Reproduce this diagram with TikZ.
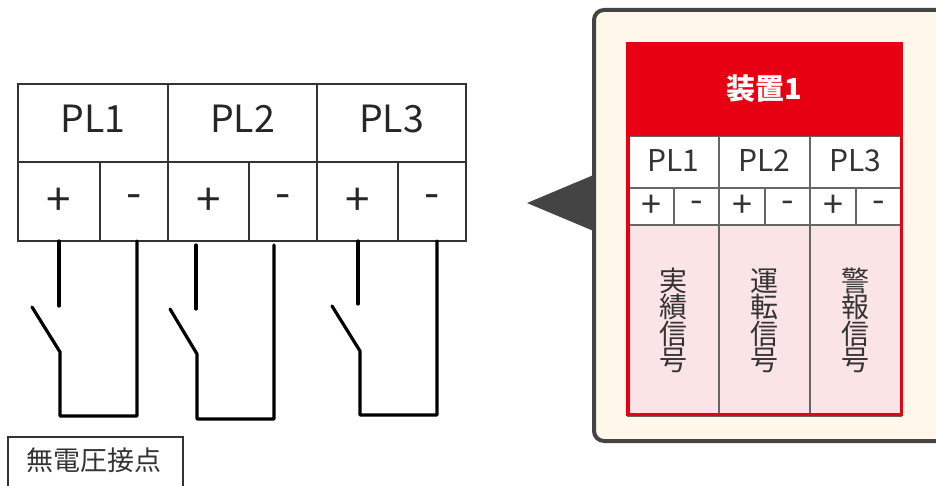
\documentclass[tikz,border=0pt]{standalone}
\usepackage{fontspec}
\setmainfont{Noto Sans CJK JP}
\usetikzlibrary{positioning}
\definecolor{inkdark}{HTML}{333333}
\definecolor{bubbleline}{HTML}{444444}
\definecolor{bubblefill}{HTML}{FFF7EA}
\definecolor{devred}{HTML}{E60012}
\definecolor{sigpink}{HTML}{FBE4E6}
\newcommand{\fs}[1]{\fontsize{#1}{#1}\selectfont}
\tikzset{
  cell/.style={draw=black!80, line width=2.2pt, inner sep=0pt, outer sep=0pt, text=black!85},
  headcell/.style={cell, minimum height=78pt, text height=27pt, text depth=7pt, font=\fs{37.5}},
  signcell/.style={cell, minimum height=79pt, font=\fs{44}},
  subcell/.style={draw=black!60, line width=1.2pt, fill=white, inner sep=0pt, outer sep=0pt, text=inkdark},
  subhead/.style={subcell, minimum width=91pt, minimum height=52pt, text height=22pt, text depth=2pt, font=\fs{30}},
  subsign/.style={subcell, minimum height=37pt, font=\fs{36}},
  sigcell/.style={subcell, fill=sigpink, minimum width=91pt, minimum height=191pt, align=center, font=\fs{28}},
  wire/.style={line width=3.2pt, line cap=round, line join=round, draw=black}
}
\begin{document}
\begin{tikzpicture}[x=1pt, y=-1pt, node distance=0pt]
\useasboundingbox (0,0) rectangle (936,486);
\clip (0,0) rectangle (936,486);
% terminal block
\node[headcell, minimum width=150pt] (pla) at (93,123) {PL1};
\node[headcell, minimum width=149pt, right=of pla] (plb) {PL2};
\node[headcell, minimum width=149pt, right=of plb] (plc) {PL3};
\node[signcell, minimum width=82pt, anchor=north west] (apos) at (pla.south west) {+};
\node[signcell, minimum width=68pt, right=of apos] (aneg) {-};
\node[signcell, minimum width=81pt, right=of aneg] (bpos) {+};
\node[signcell, minimum width=68pt, right=of bpos] (bneg) {-};
\node[signcell, minimum width=81pt, right=of bneg] (cpos) {+};
\node[signcell, minimum width=68pt, right=of cpos] (cneg) {-};
% contacts
\coordinate (aup) at (59,306);
\coordinate (aarm) at (32,307);
\coordinate (apiv) at (60,352);
\coordinate (aret) at (137,241);
\draw[wire] (aup) -- (aup |- apos.south);
\draw[wire] (aarm) -- (apiv) -- (60,416) -- (137,416) -- (aret);
\coordinate (bstart) at (196,245);
\coordinate (bup) at (196,309);
\coordinate (barm) at (170,309);
\coordinate (bpiv) at (197,354);
\coordinate (bret) at (274,245);
\draw[wire] (bup) -- (bstart);
\draw[wire] (barm) -- (bpiv) -- (197,419) -- (274,419) -- (bret);
\coordinate (cup) at (358,304);
\coordinate (carm) at (332,306);
\coordinate (cpiv) at (360,351);
\coordinate (cret) at (437,241);
\draw[wire] (cup) -- (cup |- cpos.south);
\draw[wire] (carm) -- (cpiv) -- (360,415) -- (437,415) -- (cret);
\node[cell, line width=1.6pt, minimum width=175pt, minimum height=70pt, anchor=north west] (contact) at (8,437) {};
\node[text=inkdark, font=\fs{27}, inner sep=0pt] (contactlabel) at (94,460) {無電圧接点};
% callout
\coordinate (tip) at (527,203);
\fill[bubbleline] (tip) -- (596,174) -- (596,232) -- cycle;
\node[draw=bubbleline, fill=bubblefill, line width=4pt, rounded corners=10pt, minimum width=360pt, minimum height=431pt, inner sep=0pt, outer sep=0pt, anchor=north west] (bubble) at (594,10) {};
% device
\node[fill=devred, text=white, minimum width=277pt, minimum height=94pt, inner sep=0pt, outer sep=0pt, anchor=north west, font=\fs{29}\bfseries] (devhead) at (626,42) {装置1};
\node[subhead, anchor=north west] (ra) at (628,136) {PL1};
\node[subhead, right=of ra] (rb) {PL2};
\node[subhead, right=of rb] (rc) {PL3};
\node[subsign, minimum width=46pt, anchor=north west] (rap) at (ra.south west) {+};
\node[subsign, minimum width=45pt, right=of rap] (ran) {-};
\node[subsign, minimum width=46pt, right=of ran] (rbp) {+};
\node[subsign, minimum width=45pt, right=of rbp] (rbn) {-};
\node[subsign, minimum width=46pt, right=of rbn] (rcp) {+};
\node[subsign, minimum width=45pt, right=of rcp] (rcn) {-};
\node[sigcell, anchor=north west] (sa) at (rap.south west) {実\\[-1.5pt]績\\[-1.5pt]信\\[-1.5pt]号};
\node[sigcell, right=of sa] (sb) {運\\[-1.5pt]転\\[-1.5pt]信\\[-1.5pt]号};
\node[sigcell, right=of sb] (sc) {警\\[-1.5pt]報\\[-1.5pt]信\\[-1.5pt]号};
\node[draw=devred, line width=3.6pt, minimum width=273.5pt, minimum height=280pt, inner sep=0pt, outer sep=0pt, anchor=north west] (devframe) at (628,134.5) {};
\end{tikzpicture}
\end{document}
